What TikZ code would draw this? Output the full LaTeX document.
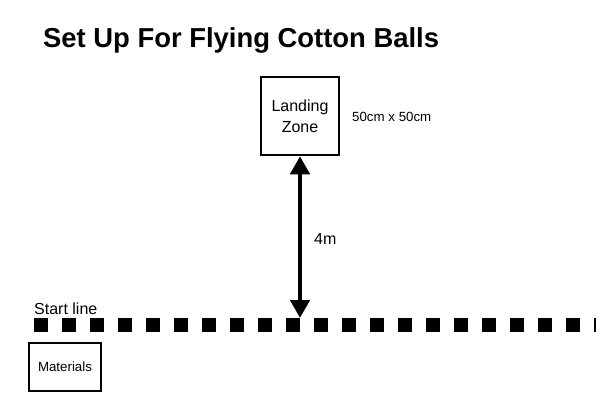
\documentclass[tikz,border=0pt]{standalone}
\usepackage{fontspec}
\setmainfont{Liberation Sans}
\usepackage{tikz}
\usetikzlibrary{arrows.meta, positioning}

\begin{document}
\begin{tikzpicture}[
    x=1pt, y=-1pt,
    zonebox/.style={draw, line width=2.5pt, minimum width=78pt, minimum height=78pt, inner sep=0pt, align=center, font=\fontsize{16}{21}\selectfont},
    matbox/.style={draw, line width=1.5pt, minimum width=72pt, minimum height=48pt, inner sep=0pt, font=\fontsize{13.3}{16}\selectfont},
    labeltext/.style={anchor=base west, inner sep=0pt, font=\fontsize{16}{19}\selectfont},
    smalltext/.style={anchor=base west, inner sep=0pt, font=\fontsize{13.3}{16}\selectfont},
    dimarrow/.style={{Triangle[width=19pt,length=18pt]}-{Triangle[width=19pt,length=18pt]}, line width=4.5pt},
    startline/.style={line width=14pt, dash pattern=on 14pt off 14pt}
]
    \useasboundingbox (0,0) rectangle (600,400);

    \node[anchor=base west, inner sep=0pt, font=\fontsize{27.4}{31}\selectfont\bfseries] (title) at (43,47) {Set Up For Flying Cotton Balls};

    \node[zonebox] (zone) at (300,116) {Landing\\Zone};
    \node[smalltext] (size) at (352,121) {50cm x 50cm};

    \coordinate (lineA) at (34,325);
    \coordinate (lineB) at (596,325);
    \draw[startline] (lineA) -- (lineB);
    \node[labeltext] (start) at (34,314) {Start line};

    \coordinate (target) at (300,318);
    \draw[dimarrow] (zone.south) -- (target);
    \node[labeltext] (dist) at (314,244) {4m};

    \node[matbox] (materials) at (65,367) {Materials};
\end{tikzpicture}
\end{document}
